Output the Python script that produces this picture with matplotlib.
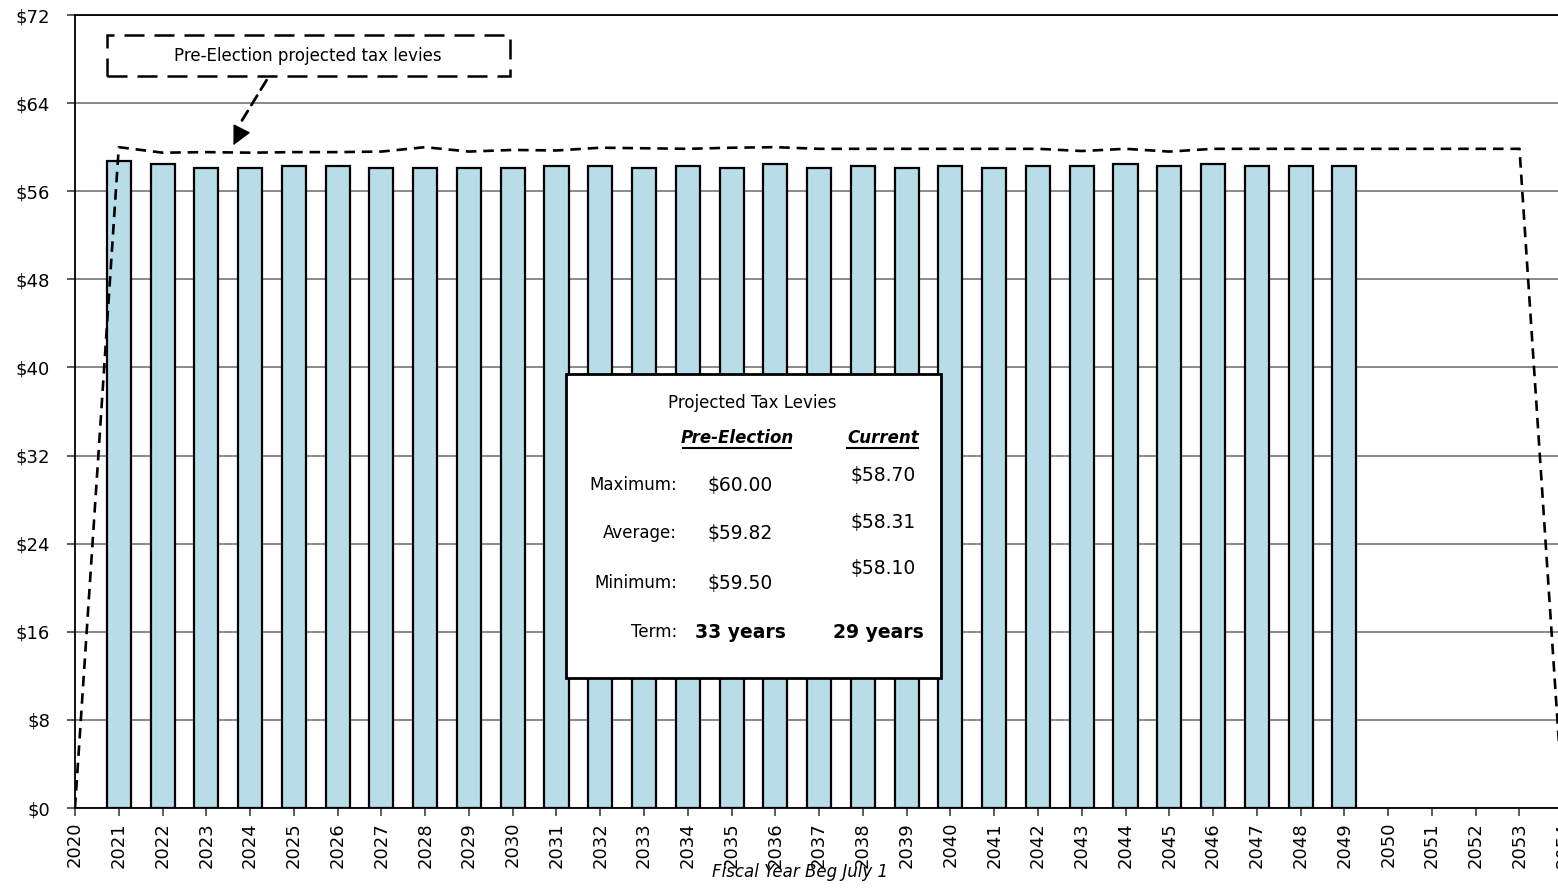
import matplotlib.pyplot as plt
from matplotlib.patches import Rectangle

plt.rcParams['font.family'] = ['DejaVu Sans']

# fiscal years on the category axis
years = list(range(2020, 2055))

# current projected levy, one bar per year 2021-2049
levy_years = list(range(2021, 2050))
current_levy = [58.70, 58.51, 58.10, 58.10, 58.32, 58.32, 58.10, 58.10, 58.10, 58.10,
                58.32, 58.32, 58.10, 58.32, 58.10, 58.51, 58.10, 58.32, 58.10, 58.32,
                58.10, 58.32, 58.32, 58.51, 58.32, 58.51, 58.32, 58.32, 58.32]

# pre-election projection, 2020-2054
pre_election = [0.00, 60.00, 59.50, 59.55, 59.50, 59.55, 59.55, 59.60, 60.00, 59.60,
                59.75, 59.70, 59.95, 59.90, 59.85, 59.95, 60.00, 59.85, 59.85, 59.85,
                59.85, 59.85, 59.85, 59.65, 59.85, 59.60, 59.85, 59.85, 59.85, 59.85,
                59.85, 59.85, 59.85, 59.85, 0.00]

y_ticks = list(range(0, 73, 8))

# summary table
stat_rows = ['Maximum:', 'Average:', 'Minimum:']
pre_stats = ['$60.00', '$59.82', '$59.50']
cur_stats = ['$58.70', '$58.31', '$58.10']
pre_term = '33 years'
cur_term = '29 years'

fig = plt.figure(figsize=(15.58, 8.91), dpi=100)
ax = fig.add_axes([75 / 1558, 1 - 808 / 891, (1572 - 75) / 1558, (808 - 15) / 891])

ax.bar(levy_years, current_levy, width=0.55, color='#b8dde8', edgecolor='black',
       linewidth=1.6, zorder=2)
ax.plot(years, pre_election, color='black', lw=1.9, linestyle=(0, (4, 2.6)), zorder=3)

ax.set_xlim(2020, 2054.2)
ax.set_ylim(0, 72)
ax.set_xticks(years)
ax.set_xticklabels([str(y) for y in years], rotation=90, fontsize=13)
ax.set_yticks(y_ticks)
ax.set_yticklabels(['$%d' % v for v in y_ticks], fontsize=13)
ax.tick_params(axis='both', direction='out', length=6, width=1.2, color='#404040', pad=4)
ax.tick_params(axis='y', pad=12)

ax.yaxis.grid(True, color='#808080', lw=1.3)
ax.set_axisbelow(True)
for side in ['left', 'bottom', 'top']:
    ax.spines[side].set_color('black')
    ax.spines[side].set_linewidth(1.3)
ax.spines['right'].set_visible(False)

fig.text(800 / 1558, 1 - 872 / 891, 'Fiscal Year Beg July 1', fontsize=12,
         style='italic', ha='center', va='center')

# callout for the dashed line
ax.add_patch(Rectangle((2020.73, 66.46), 9.21, 3.72, fill=True, facecolor='white',
                       edgecolor='black', lw=1.8, linestyle=(0, (8, 4)), zorder=4))
ax.text(2025.32, 68.3, 'Pre-Election projected tax levies', fontsize=12,
        ha='center', va='center', zorder=5)
ax.annotate('', xy=(2023.75, 62.0), xytext=(2024.41, 66.3),
            arrowprops=dict(arrowstyle='-', lw=2, color='black',
                            linestyle=(0, (4, 2.5))), zorder=5)
ax.annotate('', xy=(2023.59, 59.95), xytext=(2023.8, 61.6),
            arrowprops=dict(arrowstyle='-|>', lw=1, color='black',
                            mutation_scale=30), zorder=5)

# summary box
ax.add_patch(Rectangle((2031.22, 11.78), 8.57, 27.61, facecolor='white',
                       edgecolor='black', lw=2, zorder=6))
ax.text(2035.47, 36.76, 'Projected Tax Levies', fontsize=12, ha='center',
        va='center', zorder=7)
ax.text(2035.13, 33.58, 'Pre-Election', fontsize=12, ha='center', va='center',
        style='italic', weight='bold', zorder=7)
ax.text(2038.46, 33.58, 'Current', fontsize=12, ha='center', va='center',
        style='italic', weight='bold', zorder=7)
ax.plot([2033.89, 2036.36], [32.67, 32.67], color='black', lw=1.5, zorder=7)
ax.plot([2037.64, 2039.26], [32.67, 32.67], color='black', lw=1.5, zorder=7)

row_y = [29.31, 24.95, 20.41]
cur_y = [30.22, 25.95, 21.77]
for label, pv, cv, ry, cy in zip(stat_rows, pre_stats, cur_stats, row_y, cur_y):
    ax.text(2033.76, ry, label, fontsize=12, ha='right', va='center', zorder=7)
    ax.text(2035.2, ry, pv, fontsize=13.5, ha='center', va='center', zorder=7)
    ax.text(2038.46, cy, cv, fontsize=13.5, ha='center', va='center', zorder=7)
ax.text(2033.76, 15.96, 'Term:', fontsize=12, ha='right', va='center', zorder=7)
ax.text(2035.2, 15.96, pre_term, fontsize=13.5, weight='bold', ha='center',
        va='center', zorder=7)
ax.text(2038.35, 15.96, cur_term, fontsize=13.5, weight='bold', ha='center',
        va='center', zorder=7)

fig.savefig('out.png', dpi=100)
